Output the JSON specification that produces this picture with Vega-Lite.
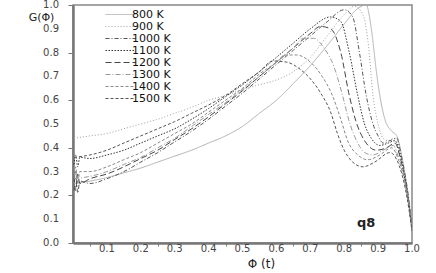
{
  "$schema": "https://vega.github.io/schema/vega-lite/v6.json",
  "width": 339,
  "height": 238,
  "autosize": "none",
  "padding": {"left": 73, "top": 5, "right": 24, "bottom": 30},
  "background": "white",
  "config": {
    "view": {"stroke": "#888", "strokeWidth": 1.5},
    "font": "DejaVu Sans",
    "axis": {"grid": false, "domainColor": "#777", "domainWidth": 2.5, "tickColor": "#777", "titleFont": "DejaVu Sans", "titleFontWeight": "normal", "titleColor": "#222"}
  },
  "datasets": {
    "curves": [
      {"T":"800 K","x":0.003,"y":0.25},{"T":"800 K","x":0.05,"y":0.26},{"T":"800 K","x":0.1,"y":0.275},{"T":"800 K","x":0.15,"y":0.295},{"T":"800 K","x":0.2,"y":0.315},{"T":"800 K","x":0.25,"y":0.34},{"T":"800 K","x":0.3,"y":0.365},{"T":"800 K","x":0.35,"y":0.39},{"T":"800 K","x":0.4,"y":0.42},{"T":"800 K","x":0.45,"y":0.45},{"T":"800 K","x":0.5,"y":0.49},{"T":"800 K","x":0.55,"y":0.545},{"T":"800 K","x":0.6,"y":0.6},{"T":"800 K","x":0.65,"y":0.67},{"T":"800 K","x":0.7,"y":0.745},{"T":"800 K","x":0.75,"y":0.83},{"T":"800 K","x":0.8,"y":0.92},{"T":"800 K","x":0.84,"y":0.985},{"T":"800 K","x":0.865,"y":1.0},{"T":"800 K","x":0.88,"y":0.9},{"T":"800 K","x":0.895,"y":0.72},{"T":"800 K","x":0.905,"y":0.62},{"T":"800 K","x":0.92,"y":0.52},{"T":"800 K","x":0.94,"y":0.47},{"T":"800 K","x":0.955,"y":0.45},{"T":"800 K","x":0.968,"y":0.38},{"T":"800 K","x":0.978,"y":0.3},{"T":"800 K","x":0.987,"y":0.22},{"T":"800 K","x":0.994,"y":0.14},{"T":"800 K","x":1.0,"y":0.07},

      {"T":"900 K","x":0.003,"y":0.44},{"T":"900 K","x":0.05,"y":0.45},{"T":"900 K","x":0.1,"y":0.46},{"T":"900 K","x":0.15,"y":0.48},{"T":"900 K","x":0.2,"y":0.5},{"T":"900 K","x":0.25,"y":0.52},{"T":"900 K","x":0.3,"y":0.545},{"T":"900 K","x":0.35,"y":0.57},{"T":"900 K","x":0.4,"y":0.6},{"T":"900 K","x":0.45,"y":0.62},{"T":"900 K","x":0.5,"y":0.645},{"T":"900 K","x":0.55,"y":0.665},{"T":"900 K","x":0.6,"y":0.685},{"T":"900 K","x":0.65,"y":0.72},{"T":"900 K","x":0.7,"y":0.78},{"T":"900 K","x":0.75,"y":0.87},{"T":"900 K","x":0.8,"y":0.96},{"T":"900 K","x":0.83,"y":0.995},{"T":"900 K","x":0.855,"y":0.96},{"T":"900 K","x":0.87,"y":0.85},{"T":"900 K","x":0.885,"y":0.62},{"T":"900 K","x":0.9,"y":0.5},{"T":"900 K","x":0.915,"y":0.44},{"T":"900 K","x":0.93,"y":0.43},{"T":"900 K","x":0.945,"y":0.44},{"T":"900 K","x":0.955,"y":0.44},{"T":"900 K","x":0.965,"y":0.39},{"T":"900 K","x":0.975,"y":0.31},{"T":"900 K","x":0.985,"y":0.22},{"T":"900 K","x":0.993,"y":0.14},{"T":"900 K","x":1.0,"y":0.05},

      {"T":"1000 K","x":0.003,"y":0.22},{"T":"1000 K","x":0.008,"y":0.3},{"T":"1000 K","x":0.014,"y":0.21},{"T":"1000 K","x":0.02,"y":0.26},{"T":"1000 K","x":0.05,"y":0.25},{"T":"1000 K","x":0.1,"y":0.27},{"T":"1000 K","x":0.15,"y":0.3},{"T":"1000 K","x":0.2,"y":0.34},{"T":"1000 K","x":0.25,"y":0.38},{"T":"1000 K","x":0.3,"y":0.425},{"T":"1000 K","x":0.35,"y":0.47},{"T":"1000 K","x":0.4,"y":0.52},{"T":"1000 K","x":0.45,"y":0.575},{"T":"1000 K","x":0.5,"y":0.63},{"T":"1000 K","x":0.55,"y":0.69},{"T":"1000 K","x":0.6,"y":0.75},{"T":"1000 K","x":0.65,"y":0.81},{"T":"1000 K","x":0.7,"y":0.87},{"T":"1000 K","x":0.75,"y":0.93},{"T":"1000 K","x":0.8,"y":0.98},{"T":"1000 K","x":0.825,"y":0.95},{"T":"1000 K","x":0.845,"y":0.8},{"T":"1000 K","x":0.865,"y":0.62},{"T":"1000 K","x":0.885,"y":0.5},{"T":"1000 K","x":0.9,"y":0.45},{"T":"1000 K","x":0.915,"y":0.42},{"T":"1000 K","x":0.935,"y":0.43},{"T":"1000 K","x":0.955,"y":0.44},{"T":"1000 K","x":0.968,"y":0.37},{"T":"1000 K","x":0.978,"y":0.3},{"T":"1000 K","x":0.987,"y":0.22},{"T":"1000 K","x":0.994,"y":0.14},{"T":"1000 K","x":1.0,"y":0.06},

      {"T":"1100 K","x":0.003,"y":0.33},{"T":"1100 K","x":0.008,"y":0.37},{"T":"1100 K","x":0.014,"y":0.32},{"T":"1100 K","x":0.02,"y":0.36},{"T":"1100 K","x":0.05,"y":0.355},{"T":"1100 K","x":0.1,"y":0.37},{"T":"1100 K","x":0.15,"y":0.39},{"T":"1100 K","x":0.2,"y":0.42},{"T":"1100 K","x":0.25,"y":0.45},{"T":"1100 K","x":0.3,"y":0.48},{"T":"1100 K","x":0.35,"y":0.52},{"T":"1100 K","x":0.4,"y":0.565},{"T":"1100 K","x":0.45,"y":0.615},{"T":"1100 K","x":0.5,"y":0.665},{"T":"1100 K","x":0.55,"y":0.72},{"T":"1100 K","x":0.6,"y":0.78},{"T":"1100 K","x":0.65,"y":0.84},{"T":"1100 K","x":0.7,"y":0.9},{"T":"1100 K","x":0.76,"y":0.95},{"T":"1100 K","x":0.79,"y":0.93},{"T":"1100 K","x":0.815,"y":0.8},{"T":"1100 K","x":0.84,"y":0.62},{"T":"1100 K","x":0.86,"y":0.5},{"T":"1100 K","x":0.88,"y":0.44},{"T":"1100 K","x":0.905,"y":0.41},{"T":"1100 K","x":0.93,"y":0.42},{"T":"1100 K","x":0.95,"y":0.43},{"T":"1100 K","x":0.965,"y":0.37},{"T":"1100 K","x":0.975,"y":0.3},{"T":"1100 K","x":0.985,"y":0.22},{"T":"1100 K","x":0.993,"y":0.14},{"T":"1100 K","x":1.0,"y":0.06},

      {"T":"1200 K","x":0.003,"y":0.28},{"T":"1200 K","x":0.008,"y":0.22},{"T":"1200 K","x":0.014,"y":0.29},{"T":"1200 K","x":0.02,"y":0.25},{"T":"1200 K","x":0.05,"y":0.27},{"T":"1200 K","x":0.1,"y":0.29},{"T":"1200 K","x":0.15,"y":0.32},{"T":"1200 K","x":0.2,"y":0.355},{"T":"1200 K","x":0.25,"y":0.39},{"T":"1200 K","x":0.3,"y":0.435},{"T":"1200 K","x":0.35,"y":0.48},{"T":"1200 K","x":0.4,"y":0.53},{"T":"1200 K","x":0.45,"y":0.585},{"T":"1200 K","x":0.5,"y":0.64},{"T":"1200 K","x":0.55,"y":0.7},{"T":"1200 K","x":0.6,"y":0.76},{"T":"1200 K","x":0.65,"y":0.82},{"T":"1200 K","x":0.7,"y":0.88},{"T":"1200 K","x":0.73,"y":0.91},{"T":"1200 K","x":0.76,"y":0.9},{"T":"1200 K","x":0.79,"y":0.8},{"T":"1200 K","x":0.815,"y":0.62},{"T":"1200 K","x":0.835,"y":0.51},{"T":"1200 K","x":0.86,"y":0.43},{"T":"1200 K","x":0.895,"y":0.39},{"T":"1200 K","x":0.925,"y":0.4},{"T":"1200 K","x":0.95,"y":0.42},{"T":"1200 K","x":0.965,"y":0.36},{"T":"1200 K","x":0.975,"y":0.3},{"T":"1200 K","x":0.985,"y":0.22},{"T":"1200 K","x":0.993,"y":0.14},{"T":"1200 K","x":1.0,"y":0.06},

      {"T":"1300 K","x":0.003,"y":0.27},{"T":"1300 K","x":0.05,"y":0.28},{"T":"1300 K","x":0.1,"y":0.3},{"T":"1300 K","x":0.15,"y":0.33},{"T":"1300 K","x":0.2,"y":0.36},{"T":"1300 K","x":0.25,"y":0.4},{"T":"1300 K","x":0.3,"y":0.44},{"T":"1300 K","x":0.35,"y":0.49},{"T":"1300 K","x":0.4,"y":0.54},{"T":"1300 K","x":0.45,"y":0.59},{"T":"1300 K","x":0.5,"y":0.645},{"T":"1300 K","x":0.55,"y":0.7},{"T":"1300 K","x":0.6,"y":0.76},{"T":"1300 K","x":0.65,"y":0.82},{"T":"1300 K","x":0.68,"y":0.86},{"T":"1300 K","x":0.71,"y":0.86},{"T":"1300 K","x":0.74,"y":0.82},{"T":"1300 K","x":0.77,"y":0.74},{"T":"1300 K","x":0.795,"y":0.62},{"T":"1300 K","x":0.815,"y":0.51},{"T":"1300 K","x":0.84,"y":0.42},{"T":"1300 K","x":0.86,"y":0.38},{"T":"1300 K","x":0.885,"y":0.37},{"T":"1300 K","x":0.915,"y":0.39},{"T":"1300 K","x":0.945,"y":0.41},{"T":"1300 K","x":0.96,"y":0.36},{"T":"1300 K","x":0.975,"y":0.29},{"T":"1300 K","x":0.985,"y":0.21},{"T":"1300 K","x":0.993,"y":0.14},{"T":"1300 K","x":1.0,"y":0.06},

      {"T":"1400 K","x":0.003,"y":0.27},{"T":"1400 K","x":0.008,"y":0.32},{"T":"1400 K","x":0.014,"y":0.25},{"T":"1400 K","x":0.02,"y":0.3},{"T":"1400 K","x":0.05,"y":0.3},{"T":"1400 K","x":0.1,"y":0.32},{"T":"1400 K","x":0.15,"y":0.35},{"T":"1400 K","x":0.2,"y":0.38},{"T":"1400 K","x":0.25,"y":0.42},{"T":"1400 K","x":0.3,"y":0.46},{"T":"1400 K","x":0.35,"y":0.5},{"T":"1400 K","x":0.4,"y":0.55},{"T":"1400 K","x":0.45,"y":0.6},{"T":"1400 K","x":0.5,"y":0.65},{"T":"1400 K","x":0.55,"y":0.71},{"T":"1400 K","x":0.6,"y":0.76},{"T":"1400 K","x":0.625,"y":0.79},{"T":"1400 K","x":0.66,"y":0.79},{"T":"1400 K","x":0.7,"y":0.76},{"T":"1400 K","x":0.735,"y":0.7},{"T":"1400 K","x":0.765,"y":0.62},{"T":"1400 K","x":0.79,"y":0.52},{"T":"1400 K","x":0.81,"y":0.43},{"T":"1400 K","x":0.84,"y":0.37},{"T":"1400 K","x":0.87,"y":0.35},{"T":"1400 K","x":0.905,"y":0.37},{"T":"1400 K","x":0.94,"y":0.4},{"T":"1400 K","x":0.96,"y":0.35},{"T":"1400 K","x":0.975,"y":0.28},{"T":"1400 K","x":0.985,"y":0.21},{"T":"1400 K","x":0.993,"y":0.14},{"T":"1400 K","x":1.0,"y":0.06},

      {"T":"1500 K","x":0.003,"y":0.36},{"T":"1500 K","x":0.05,"y":0.37},{"T":"1500 K","x":0.1,"y":0.39},{"T":"1500 K","x":0.15,"y":0.42},{"T":"1500 K","x":0.2,"y":0.45},{"T":"1500 K","x":0.25,"y":0.48},{"T":"1500 K","x":0.3,"y":0.51},{"T":"1500 K","x":0.35,"y":0.545},{"T":"1500 K","x":0.4,"y":0.58},{"T":"1500 K","x":0.45,"y":0.62},{"T":"1500 K","x":0.5,"y":0.67},{"T":"1500 K","x":0.55,"y":0.72},{"T":"1500 K","x":0.59,"y":0.765},{"T":"1500 K","x":0.63,"y":0.76},{"T":"1500 K","x":0.67,"y":0.73},{"T":"1500 K","x":0.7,"y":0.69},{"T":"1500 K","x":0.735,"y":0.62},{"T":"1500 K","x":0.76,"y":0.55},{"T":"1500 K","x":0.78,"y":0.46},{"T":"1500 K","x":0.8,"y":0.39},{"T":"1500 K","x":0.825,"y":0.34},{"T":"1500 K","x":0.855,"y":0.32},{"T":"1500 K","x":0.89,"y":0.34},{"T":"1500 K","x":0.935,"y":0.38},{"T":"1500 K","x":0.955,"y":0.35},{"T":"1500 K","x":0.97,"y":0.29},{"T":"1500 K","x":0.98,"y":0.23},{"T":"1500 K","x":0.99,"y":0.15},{"T":"1500 K","x":1.0,"y":0.05}
    ],
    "notes": [{"x": 0.865, "y": 0.085, "label": "q8"}],
    "xlabels": [{"v":0.1},{"v":0.2},{"v":0.3},{"v":0.4},{"v":0.5},{"v":0.6},{"v":0.7},{"v":0.8},{"v":0.9},{"v":1.0}],
    "ylabels": [{"v":0.0},{"v":0.1},{"v":0.2},{"v":0.3},{"v":0.4},{"v":0.5},{"v":0.6},{"v":0.7},{"v":0.8},{"v":0.9},{"v":1.0}]
  },
  "layer": [
    {
      "data": {"name": "curves"},
      "mark": {"type": "line", "strokeWidth": 1, "interpolate": "monotone", "clip": true},
      "encoding": {
        "x": {"field": "x", "type": "quantitative", "scale": {"domain": [0, 1], "nice": false},
          "axis": {"values": [0.05,0.1,0.15,0.2,0.25,0.3,0.35,0.4,0.45,0.5,0.55,0.6,0.65,0.7,0.75,0.8,0.85,0.9,0.95,1.0],
            "labels": false, "tickSize": 3,
            "title": "Φ (t)", "titleFontSize": 12, "titleX": 188, "titleY": 20, "titleAnchor": "start", "titleAlign": "center", "titleBaseline": "middle"}},
        "y": {"field": "y", "type": "quantitative", "scale": {"domain": [0, 1], "nice": false},
          "axis": {"values": [0,0.05,0.1,0.15,0.2,0.25,0.3,0.35,0.4,0.45,0.5,0.55,0.6,0.65,0.7,0.75,0.8,0.85,0.9,0.95,1.0],
            "labels": false, "tickSize": 5,
            "title": "G(Φ)", "titleAngle": 0, "titleFontSize": 11, "titleX": -32, "titleY": 12, "titleAlign": "center", "titleBaseline": "middle"}},
        "color": {"field": "T", "type": "nominal",
          "scale": {"domain": ["800 K","900 K","1000 K","1100 K","1200 K","1300 K","1400 K","1500 K"],
                    "range": ["#b0b0b0","#a0a0a0","#555555","#333333","#444444","#9a9a9a","#888888","#555555"]},
          "legend": {"title": null, "orient": "none", "legendX": 41, "legendY": 3, "symbolType": "M-2.5,0H2.5", "symbolSize": 144, "symbolStrokeWidth": 1, "symbolFillColor": "transparent", "labelFont": "DejaVu Sans", "labelFontSize": 11, "labelColor": "#111", "labelAlign": "left", "labelOffset": 5, "rowPadding": -1}},
        "strokeDash": {"field": "T", "type": "nominal",
          "scale": {"domain": ["800 K","900 K","1000 K","1100 K","1200 K","1300 K","1400 K","1500 K"],
                    "range": [[1,0],[1,2],[4,2,1,2],[1.5,1.5],[6,3],[5,2,1,2],[3,2],[3,2]]},
          "legend": {"title": null, "orient": "none", "legendX": 41, "legendY": 3, "symbolType": "M-2.5,0H2.5", "symbolSize": 144, "symbolStrokeWidth": 1, "symbolFillColor": "transparent", "labelFont": "DejaVu Sans", "labelFontSize": 11, "labelColor": "#111", "labelAlign": "left", "labelOffset": 5, "rowPadding": -1}}
      }
    },
    {
      "data": {"name": "xlabels"},
      "mark": {"type": "text", "fontSize": 10, "color": "#444", "font": "DejaVu Sans", "baseline": "middle", "align": "center", "dy": 6},
      "encoding": {
        "x": {"field": "v", "type": "quantitative"},
        "y": {"datum": 0},
        "text": {"field": "v", "type": "quantitative", "format": ".1f"}
      }
    },
    {
      "data": {"name": "ylabels"},
      "mark": {"type": "text", "fontSize": 10, "color": "#444", "font": "DejaVu Sans", "baseline": "middle", "align": "right", "dx": -14},
      "encoding": {
        "x": {"datum": 0},
        "y": {"field": "v", "type": "quantitative"},
        "text": {"field": "v", "type": "quantitative", "format": ".1f"}
      }
    },
    {
      "data": {"name": "notes"},
      "mark": {"type": "text", "fontSize": 13, "fontWeight": "bold", "color": "#222", "font": "DejaVu Sans"},
      "encoding": {
        "x": {"field": "x", "type": "quantitative"},
        "y": {"field": "y", "type": "quantitative"},
        "text": {"field": "label"}
      }
    }
  ]
}
